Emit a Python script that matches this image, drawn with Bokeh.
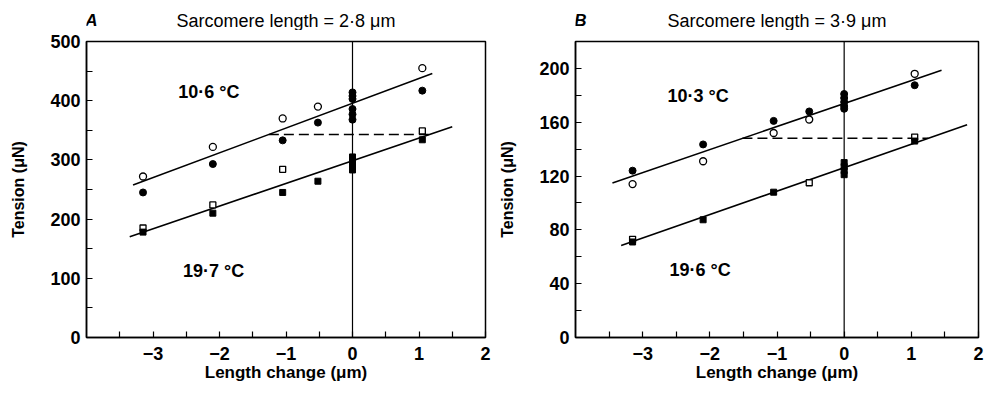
from bokeh.plotting import figure
from bokeh.layouts import row, column
from bokeh.models import Label, Span, FixedTicker, Range1d
from bokeh.core.properties import value
from bokeh.embed import file_html
from bokeh.resources import INLINE

# ---------------- data ----------------
x_ticks = [-3, -2, -1, 0, 1, 2]
x_minor = [-3.5, -2.5, -1.5, -0.5, 0.5, 1.5]

# Panel A (sarcomere length 2.8 um)
A_y_ticks = [0, 100, 200, 300, 400, 500]
A_y_minor = [50, 150, 250, 350, 450]
A_cold_open_x = [-3.15, -2.1, -1.05, -0.52, 1.05]
A_cold_open_y = [272, 322, 370, 390, 455]
A_cold_fill_x = [-3.15, -2.1, -1.05, -0.52, 1.05, 0, 0, 0, 0, 0, 0]
A_cold_fill_y = [245, 293, 333, 363, 417, 414, 408, 403, 386, 377, 368]
A_warm_open_x = [-3.15, -2.1, -1.05, 1.05]
A_warm_open_y = [185, 224, 284, 349]
A_warm_fill_x = [-3.15, -2.1, -1.05, -0.52, 1.05, 0, 0, 0, 0, 0]
A_warm_fill_y = [178, 210, 245, 264, 334, 305, 299, 293, 288, 283]
A_cold_fit = [395.7, 41.9]      # intercept, slope
A_cold_fit_x = [-3.3, 1.2]
A_warm_fit = [298.5, 38.3]
A_warm_fit_x = [-3.35, 1.5]
A_dash_level = 343

# Panel B (sarcomere length 3.9 um)
B_y_ticks = [0, 40, 80, 120, 160, 200]
B_y_minor = [20, 60, 100, 140, 180, 220]
B_cold_open_x = [-3.15, -2.1, -1.05, -0.52, 1.05]
B_cold_open_y = [114, 131, 152, 162, 196]
B_cold_fill_x = [-3.15, -2.1, -1.05, -0.52, 1.05, 0, 0, 0, 0, 0]
B_cold_fill_y = [124, 143.5, 161, 168, 187.5, 181, 178, 175, 172, 170]
B_warm_open_x = [-3.15, -0.52, 1.05]
B_warm_open_y = [73, 115, 149]
B_warm_fill_x = [-3.15, -2.1, -1.05, 1.05, 0, 0, 0, 0]
B_warm_fill_y = [71, 87.5, 108, 146, 130, 127, 124, 121]
B_cold_fit = [173.9, 17.1]
B_cold_fit_x = [-3.45, 1.45]
B_warm_fit = [126.2, 17.4]
B_warm_fit_x = [-3.32, 1.83]
B_dash_level = 148

FONT = "Liberation Sans"
HEADER_H = 30


def header(letter, title, left, right):
    h = figure(width=495, height=HEADER_H, x_range=Range1d(-4, 2), y_range=Range1d(0, HEADER_H),
               output_backend="svg", toolbar_location=None,
               min_border_left=left, min_border_right=right, min_border_top=0, min_border_bottom=0)
    h.axis.visible = False
    h.grid.visible = False
    h.outline_line_color = None
    h.border_fill_color = "white"
    h.background_fill_color = "white"
    h.text(x=[-1], y=[10], text=[title], text_font=value(FONT), text_font_size="18px",
           text_align="center", text_baseline="alphabetic", text_color="black")
    h.text(x=[-4.02], y=[10], text=[letter], text_font=value(FONT), text_font_size="17px",
           text_font_style="bold italic", text_align="left", text_baseline="alphabetic",
           text_color="black")
    return h


def panel(ymax, yticks, yminor, co_x, co_y, cf_x, cf_y,
          wo_x, wo_y, wf_x, wf_y, cfit, cfit_x, wfit, wfit_x, dash_level,
          cold_label, cold_pos, warm_label, warm_pos, left, right):
    p = figure(width=495, height=397 - HEADER_H,
               x_range=Range1d(-4, 2), y_range=Range1d(0, ymax),
               output_backend="svg", toolbar_location=None,
               min_border_left=left, min_border_right=right,
               min_border_top=11, min_border_bottom=60)
    p.xgrid.visible = False
    p.ygrid.visible = False
    p.outline_line_color = "black"
    p.outline_line_width = 1.5
    p.background_fill_color = "white"
    p.border_fill_color = "white"

    for ax, ticks, minor in ((p.xaxis[0], x_ticks, x_minor), (p.yaxis[0], yticks, yminor)):
        ax.ticker = FixedTicker(ticks=ticks, minor_ticks=minor)
        ax.major_tick_in = 6
        ax.major_tick_out = 0
        ax.minor_tick_in = 6
        ax.minor_tick_out = 0
        ax.axis_line_color = "black"
        ax.axis_line_width = 1.5
        ax.major_tick_line_color = "black"
        ax.minor_tick_line_color = "black"
        ax.major_tick_line_width = 1.2
        ax.minor_tick_line_width = 1.2
        ax.major_label_text_font = FONT
        ax.major_label_text_font_style = "bold"
        ax.major_label_text_font_size = "18px"
        ax.major_label_text_color = "black"
        ax.axis_label_text_font = FONT
        ax.axis_label_text_font_style = "bold"
        ax.axis_label_text_color = "black"
    p.xaxis.major_label_overrides = {t: (("\u2212" + str(-t)) if t < 0 else str(t)) for t in x_ticks}
    p.xaxis.axis_label = "Length change (\u03bcm)"
    p.xaxis.axis_label_text_font_size = "17px"
    p.xaxis.major_label_standoff = 9
    p.xaxis.axis_label_standoff = 0
    p.yaxis.axis_label = "Tension (\u03bcN)"
    p.yaxis.axis_label_text_font_size = "16px"
    p.yaxis.major_label_standoff = 6
    p.yaxis.axis_label_standoff = 20

    p.add_layout(Span(location=0, dimension="height", line_color="black", line_width=1.2))

    # fit lines
    for fit, fx in ((cfit, cfit_x), (wfit, wfit_x)):
        p.line(fx, [fit[0] + fit[1] * v for v in fx], line_color="black", line_width=1.6)
    # dashed horizontal between the two lines
    dx = [(dash_level - cfit[0]) / cfit[1], (dash_level - wfit[0]) / wfit[1]]
    p.line(dx, [dash_level, dash_level], line_color="black", line_width=1.5, line_dash="10 5")

    p.scatter(co_x, co_y, marker="circle", size=7, fill_color="white", line_color="black", line_width=1.3)
    p.scatter(cf_x, cf_y, marker="circle", size=7, fill_color="black", line_color="black")
    p.scatter(wo_x, wo_y, marker="square", size=6, fill_color="white", line_color="black", line_width=1.3)
    p.scatter(wf_x, wf_y, marker="square", size=6, fill_color="black", line_color="black")

    for txt, (tx, ty) in ((cold_label, cold_pos), (warm_label, warm_pos)):
        p.add_layout(Label(x=tx, y=ty, text=txt, text_font=FONT, text_font_size="18px",
                           text_font_style="bold",
                           text_color="black", text_baseline="middle", text_align="left"))
    return p


ha = header("A", "Sarcomere length = 2\u00b78 \u03bcm", 86, 10)
pa = panel(500, A_y_ticks, A_y_minor,
           A_cold_open_x, A_cold_open_y, A_cold_fill_x, A_cold_fill_y,
           A_warm_open_x, A_warm_open_y, A_warm_fill_x, A_warm_fill_y,
           A_cold_fit, A_cold_fit_x, A_warm_fit, A_warm_fit_x, A_dash_level,
           "10\u00b76 \u00b0C", (-2.62, 414), "19\u00b77 \u00b0C", (-2.55, 113),
           86, 10)
hb = header("B", "Sarcomere length = 3\u00b79 \u03bcm", 80, 12)
pb = panel(220, B_y_ticks, B_y_minor,
           B_cold_open_x, B_cold_open_y, B_cold_fill_x, B_cold_fill_y,
           B_warm_open_x, B_warm_open_y, B_warm_fill_x, B_warm_fill_y,
           B_cold_fit, B_cold_fit_x, B_warm_fit, B_warm_fit_x, B_dash_level,
           "10\u00b73 \u00b0C", (-2.63, 179.5), "19\u00b76 \u00b0C", (-2.6, 50.3),
           80, 12)

layout = row(column(ha, pa), column(hb, pb))
open("out.html", "w").write(file_html(layout, INLINE))
